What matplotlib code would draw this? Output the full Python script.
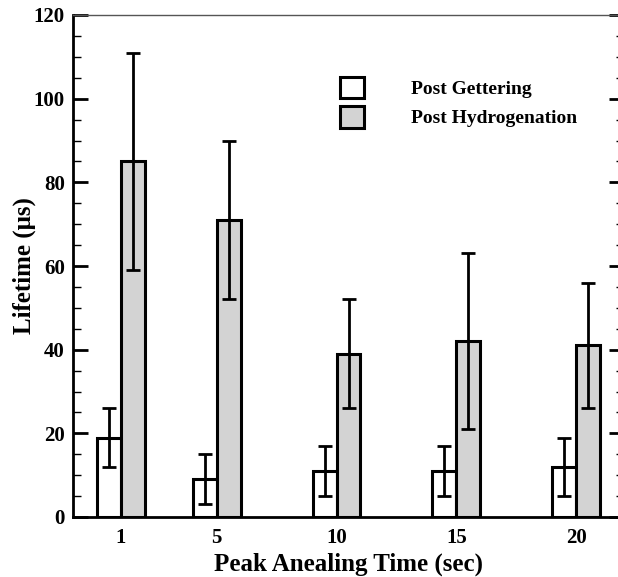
import matplotlib
matplotlib.use("Agg")
import matplotlib.pyplot as plt
from matplotlib.ticker import MultipleLocator
from matplotlib.patches import Patch
import numpy as np

# ---- data ----
anneal_time = [1, 5, 10, 15, 20]
tick_labels = ["1", "5", "10", "15", "20"]
gettering = [19, 9, 11, 11, 12]
gettering_lo = [12, 3, 5, 5, 5]
gettering_hi = [26, 15, 17, 17, 19]
hydrogen = [85, 71, 39, 42, 41]
hydrogen_lo = [59, 52, 26, 21, 26]
hydrogen_hi = [111, 90, 52, 63, 56]

plt.rcParams['font.family'] = ['Liberation Serif', 'DejaVu Serif']
plt.rcParams['font.weight'] = 'bold'

fig = plt.figure(figsize=(6.18, 5.77), dpi=100)
W, H = 618, 577
ax = fig.add_axes([73 / W, 1 - 517 / H, (624 - 73) / W, (517 - 15) / H])

x = np.array(anneal_time, dtype=float)
g = np.array(gettering)
h = np.array(hydrogen)

ax.bar(x - 0.5, g, width=1.0, color='white', edgecolor='black', linewidth=2.2, zorder=2)
ax.bar(x + 0.5, h, width=1.0, color='#d3d3d3', edgecolor='black', linewidth=2.2, zorder=2)

g_err = [g - np.array(gettering_lo), np.array(gettering_hi) - g]
h_err = [h - np.array(hydrogen_lo), np.array(hydrogen_hi) - h]
ax.errorbar(x - 0.5, g, yerr=g_err, fmt='none', ecolor='black', elinewidth=2,
            capsize=5, capthick=2, zorder=3)
ax.errorbar(x + 0.5, h, yerr=h_err, fmt='none', ecolor='black', elinewidth=2,
            capsize=5, capthick=2, zorder=3)

ax.set_xlim(-1, 22)
ax.set_ylim(0, 120)
ax.set_xticks(anneal_time)
ax.set_xticklabels(tick_labels)
ax.yaxis.set_major_locator(MultipleLocator(20))
ax.yaxis.set_minor_locator(MultipleLocator(5))

ax.tick_params(axis='x', length=0, pad=8, labelsize=15)
ax.tick_params(axis='y', which='major', direction='in', length=11, width=2,
               labelsize=15, right=True, pad=6)
ax.tick_params(axis='y', which='minor', direction='in', length=6, width=1, right=True)

for s in ['left', 'bottom', 'right']:
    ax.spines[s].set_linewidth(2)
ax.spines['top'].set_linewidth(1)
ax.spines['top'].set_color('#555555')

ax.set_xlabel('Peak Anealing Time (sec)', fontsize=18, fontweight='bold', labelpad=3)
ax.set_ylabel('Lifetime (μs)', fontsize=18, fontweight='bold', labelpad=-2)

handles = [Patch(facecolor='white', edgecolor='black', linewidth=2.2),
           Patch(facecolor='#d3d3d3', edgecolor='black', linewidth=2.2)]
leg = fig.legend(handles, ['Post Gettering', 'Post Hydrogenation'],
                 loc='upper left', bbox_to_anchor=(340 / W, 1 - 77 / H),
                 frameon=False, fontsize=14, handlelength=1.25, handleheight=1.3,
                 handletextpad=2.4, labelspacing=0.42, borderpad=0, borderaxespad=0)
for t in leg.get_texts():
    t.set_fontweight('bold')

fig.savefig('out.png', dpi=100)
